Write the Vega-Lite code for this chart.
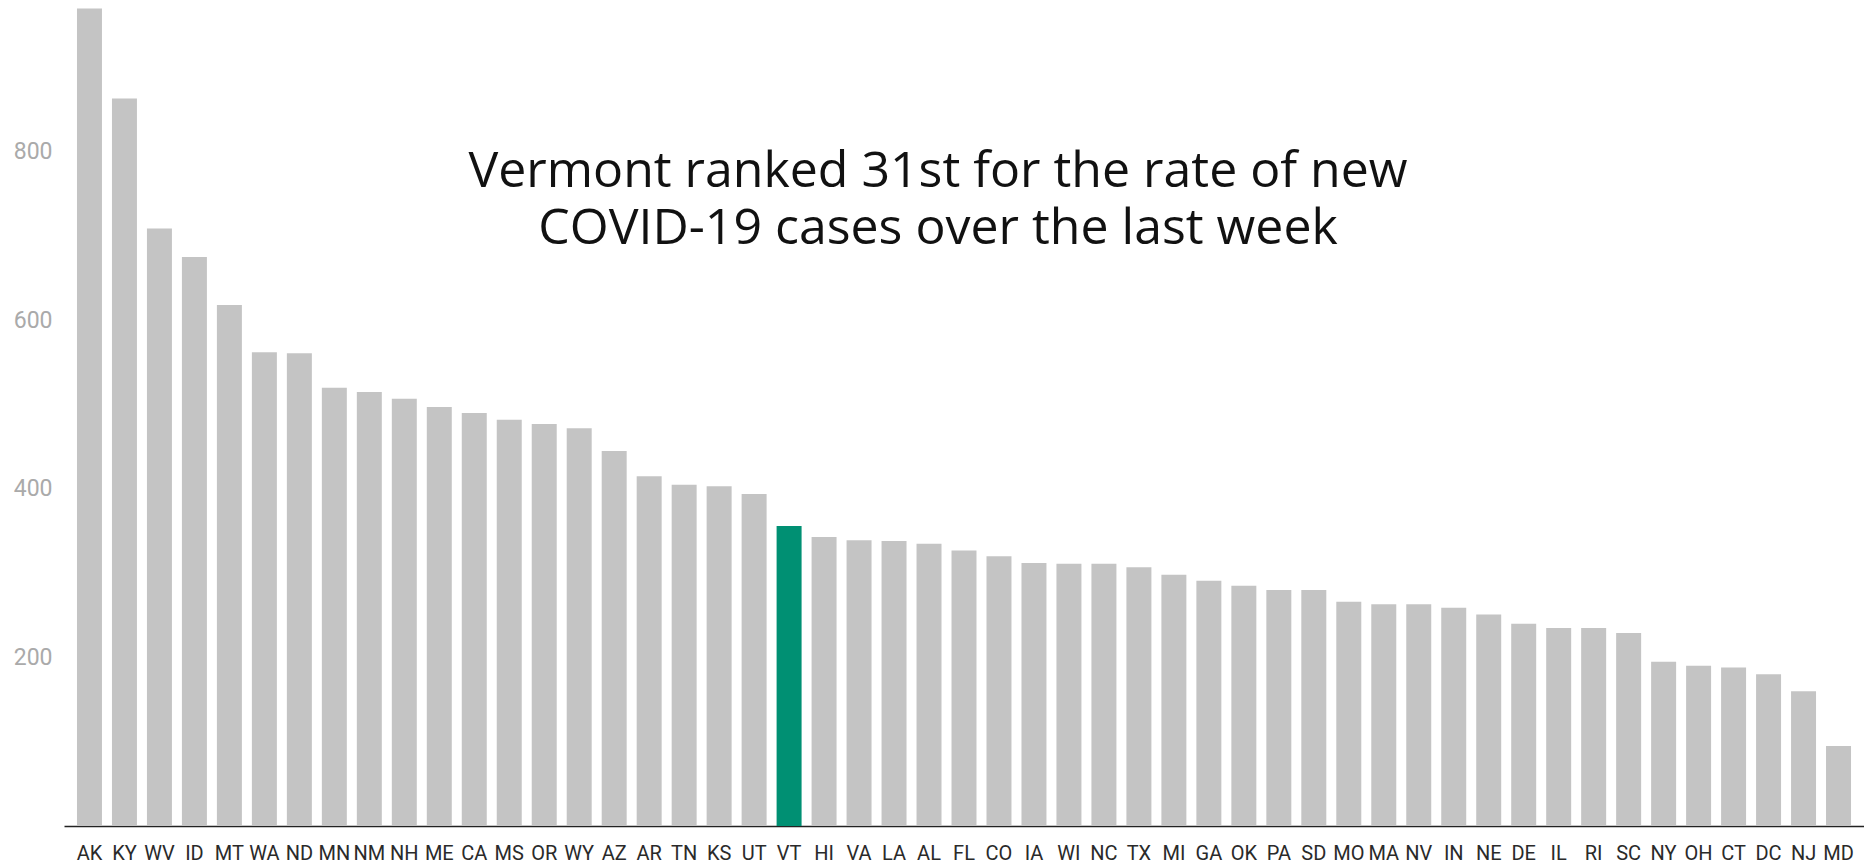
{
  "$schema": "https://vega.github.io/schema/vega-lite/v6.json",
  "width": 1800,
  "height": 826,
  "autosize": "none",
  "padding": {"left": 64, "top": 0, "right": 0, "bottom": 38},
  "background": "white",
  "title": {
    "text": ["Vermont ranked 31st for the rate of new", "COVID-19 cases over the last week"],
    "orient": "top",
    "anchor": "middle",
    "frame": "group",
    "baseline": "alphabetic",
    "offset": 0,
    "dy": 294,
    "dx": -26,
    "font": "Open Sans",
    "fontSize": 50,
    "fontWeight": "normal",
    "color": "#111111",
    "lineHeight": 57
  },
  "data": {
    "values": [
      {"state": "AK", "rate": 970},
      {"state": "KY", "rate": 863},
      {"state": "WV", "rate": 709},
      {"state": "ID", "rate": 675},
      {"state": "MT", "rate": 618},
      {"state": "WA", "rate": 562},
      {"state": "ND", "rate": 561},
      {"state": "MN", "rate": 520},
      {"state": "NM", "rate": 515},
      {"state": "NH", "rate": 507},
      {"state": "ME", "rate": 497},
      {"state": "CA", "rate": 490},
      {"state": "MS", "rate": 482},
      {"state": "OR", "rate": 477},
      {"state": "WY", "rate": 472},
      {"state": "AZ", "rate": 445},
      {"state": "AR", "rate": 415},
      {"state": "TN", "rate": 405},
      {"state": "KS", "rate": 403},
      {"state": "UT", "rate": 394},
      {"state": "VT", "rate": 356},
      {"state": "HI", "rate": 343},
      {"state": "VA", "rate": 339},
      {"state": "LA", "rate": 338},
      {"state": "AL", "rate": 335},
      {"state": "FL", "rate": 327},
      {"state": "CO", "rate": 320},
      {"state": "IA", "rate": 312},
      {"state": "WI", "rate": 311},
      {"state": "NC", "rate": 311},
      {"state": "TX", "rate": 307},
      {"state": "MI", "rate": 298},
      {"state": "GA", "rate": 291},
      {"state": "OK", "rate": 285},
      {"state": "PA", "rate": 280},
      {"state": "SD", "rate": 280},
      {"state": "MO", "rate": 266},
      {"state": "MA", "rate": 263},
      {"state": "NV", "rate": 263},
      {"state": "IN", "rate": 259},
      {"state": "NE", "rate": 251},
      {"state": "DE", "rate": 240},
      {"state": "IL", "rate": 235},
      {"state": "RI", "rate": 235},
      {"state": "SC", "rate": 229},
      {"state": "NY", "rate": 195},
      {"state": "OH", "rate": 190},
      {"state": "CT", "rate": 188},
      {"state": "DC", "rate": 180},
      {"state": "NJ", "rate": 160},
      {"state": "MD", "rate": 95}
    ]
  },
  "mark": {"type": "bar"},
  "encoding": {
    "x": {
      "field": "state",
      "type": "nominal",
      "sort": null,
      "scale": {"paddingInner": 0.2857, "paddingOuter": 0.371},
      "axis": {
        "title": null,
        "labelAngle": 0,
        "labelFont": "Roboto",
        "labelFontSize": 20,
        "labelColor": "#2a2a2a",
        "labelPadding": 17,
        "labelOverlap": false,
        "ticks": false,
        "tickSize": 0,
        "domainColor": "#222222",
        "domainWidth": 1.5,
        "grid": false
      }
    },
    "y": {
      "field": "rate",
      "type": "quantitative",
      "scale": {"domain": [0, 980], "nice": false},
      "axis": {
        "title": null,
        "values": [200, 400, 600, 800],
        "labelFont": "Roboto",
        "labelFontSize": 23,
        "labelColor": "#aaaaaa",
        "labelPadding": 12,
        "ticks": false,
        "tickSize": 0,
        "domain": false,
        "grid": false
      }
    },
    "color": {
      "condition": {"test": "datum.state === 'VT'", "value": "#009073"},
      "value": "#c4c4c4"
    }
  },
  "config": {
    "view": {"stroke": null}
  }
}
